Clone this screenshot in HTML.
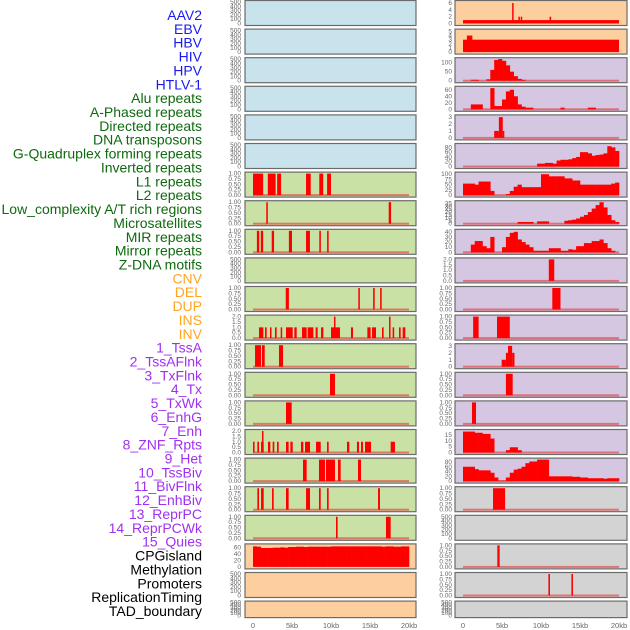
<!DOCTYPE html>
<html><head><meta charset="utf-8">
<style>
html,body{margin:0;padding:0;background:#fff;}
svg{display:block;font-family:"Liberation Sans",sans-serif;}
</style></head>
<body>
<svg id="chart" width="630" height="630" viewBox="0 0 630 630" xmlns="http://www.w3.org/2000/svg"></svg>
<script>
// ---------- labels ----------
const labels = ["AAV2","EBV","HBV","HIV","HPV","HTLV-1","Alu repeats","A-Phased repeats","Directed repeats","DNA transposons","G-Quadruplex forming repeats","Inverted repeats","L1 repeats","L2 repeats","Low_complexity A/T rich regions","Microsatellites","MIR repeats","Mirror repeats","Z-DNA motifs","CNV","DEL","DUP","INS","INV","1_TssA","2_TssAFlnk","3_TxFlnk","4_Tx","5_TxWk","6_EnhG","7_Enh","8_ZNF_Rpts","9_Het","10_TssBiv","11_BivFlnk","12_EnhBiv","13_ReprPC","14_ReprPCWk","15_Quies","CPGisland","Methylation","Promoters","ReplicationTiming","TAD_boundary"];
const labelGroups = [6,13,5,15,5];
const groupColors = ["#1a1af0","#0e6a0e","#ffa520","#a030f0","#000000"];

// ---------- axis ticks ----------
const xTickValues = [0,5000,10000,15000,20000];
const xTickLabels = ["0","5kb","10kb","15kb","20kb"];
const tEmpty = [0,100,200,300,400,500];
const tUnit = [0,0.25,0.5,0.75,1];
const tUnitLabels = ["0.00","0.25","0.50","0.75","1.00"];

// ---------- left column data (segments: [startKb,endKb,value]) ----------
const leftBg = ["b","b","b","b","b","b","g","g","g","g","g","g","g","g","g","g","g","g","g","o","o","o"];
const L6 = [[0,1.3,1],[1.9,2.9,1],[3.1,3.6,1],[6.8,7.4,1],[8.5,9.0,1],[9.5,10.0,1]];
const L7 = [[1.7,1.9,1],[17.4,17.7,1]];
const L8 = [[0.5,0.8,1],[1.0,1.3,1],[2.4,2.7,1],[4.6,5.0,1],[6.8,7.3,1],[8.5,8.7,1],[9.5,9.7,1]];
const L10 = [[4.2,4.6,1],[13.5,13.7,1],[15.4,15.6,1],[16.3,16.5,1]];
const L11 = [[0.77,1.33,1],[1.54,1.75,1],[2.18,2.35,1],[2.82,3.03,1],[3.55,3.72,1],[4.23,5.09,1],[5.3,5.6,1],[6.28,6.88,1],[7.01,7.74,1],[8.03,8.29,1],[8.72,9.02,1],[10.0,11.15,1],[10.38,10.56,2],[12.56,12.82,1],[14.66,15.08,1],[15.26,15.77,1],[16.54,16.75,1],[17.44,17.6,2],[17.9,18.1,1],[18.72,18.93,1],[19.19,19.53,1]];
const L12 = [[0.26,1.03,1],[1.15,1.5,1],[3.33,3.85,1]];
const L13 = [[9.87,10.51,1]];
const L14 = [[4.23,4.96,1]];
const L15 = [[0,0.2,1],[0.56,0.77,1],[1.03,1.37,1],[1.15,1.3,2],[1.92,2.22,1],[2.52,2.73,1],[3.08,3.29,1],[4.23,4.57,1],[4.79,5.09,1],[6.15,6.45,1],[6.67,7.31,1],[8.08,8.68,1],[9.49,9.7,1],[12.05,12.35,1],[13.33,13.59,1],[13.85,14.1,1],[14.36,15.13,1],[17.65,18.2,1]];
const L16 = [[6.41,6.88,1],[8.46,9.23,1],[9.36,10.51,1],[10.9,11.24,1],[13.46,13.85,1]];
const L17 = [[0.56,0.77,1],[1.03,1.37,1],[2.44,2.65,1],[4.23,4.57,1],[6.8,7.31,1],[8.46,8.68,1],[9.49,9.7,1],[16.03,16.28,1]];
const L18 = [[10.64,10.85,1],[17.05,17.65,1]];
const cpgValues = [63,62,58,58,58,59,59,60,59,61,61,62,62,61,62,62,62,62,62,62,63,63,63,63,63,63,63,63,63,63,63,63,63,62,63,63,62,62,63,63];

// ---------- right column data ----------
const rightBg = ["o","o","p","p","p","p","p","p","p","p","p","p","p","p","p","p","p","y","y","y","y","y"];
const R0 = [[0,20,1],[6.3,6.45,6],[7.1,7.25,2],[7.4,7.55,2],[11.1,11.3,2]];
const R1 = [[0,20,3],[0.5,1.2,4]];
const R2 = [0,0,5,5,0,0,8,60,115,120,110,85,50,25,10,5,0,0,0,0,0,0,0,0,0,0,0,0,0,0,0,0,0,0,0,0,0,0,0,0];
const R3 = [0,0,15,15,15,0,0,65,10,10,30,55,60,40,15,8,5,5,0,0,0,0,0,0,0,5,0,0,0,0,0,0,5,5,0,0,0,0,0,0];
const R4 = [[4.0,4.6,1],[4.6,5.1,3],[5.1,5.3,1]];
const R5 = [0,0,0,0,0,0,0,0,0,0,0,0,0,0,0,0,0,0,0,12,12,15,15,12,25,28,28,30,35,40,60,60,55,45,48,50,55,85,80,65];
const R6 = [55,55,55,50,65,65,65,20,0,0,0,5,20,40,50,38,38,38,38,38,100,100,90,90,90,90,80,80,70,70,50,50,50,50,50,50,50,50,55,60];
const R7 = [0,0,0,0,0,0,0,0,0,0,0,0,0,0,3,3,3,3,0,4,4,4,0,0,0,0,5,6,7,9,12,15,20,26,32,37,28,15,6,3];
const R8 = [0,0,15,22,22,12,8,30,0,0,10,30,38,40,25,20,15,10,3,3,3,3,8,8,8,3,3,6,5,12,12,18,18,22,22,25,18,8,3,0];
const R9 = [[11.0,11.7,2]];
const R10 = [[11.45,12.5,1]];
const R11 = [[1.3,2.0,1],[4.36,6.0,1]];
const R12 = [[4.96,5.5,1],[5.5,5.77,2],[5.77,6.3,3],[6.3,6.6,2]];
const R13 = [[5.5,6.37,1]];
const R14 = [[1.15,1.67,1]];
const R15 = [18,18,18,17,17,16,16,12,0,0,0,2,4.5,4.5,2,0,0,0,0,0,0,0,0,0,0,0,0,0,0,0,0,0,0,0,0,0,0,0,0,0];
const R16 = [60,60,60,50,45,45,45,35,15,2,2,15,35,48,52,60,75,82,82,90,90,90,20,20,20,20,20,20,18,18,15,15,12,12,12,12,10,12,12,12];
const R17 = [[3.85,5.4,1]];
const R19 = [[4.4,4.7,1]];
const R20 = [[10.95,11.15,1],[13.9,14.1,1]];

// ---------- panel specs (left/right): data, type, ymax, ticks, tick labels ----------
const leftSpec = [
 [null,"e"],[null,"e"],[null,"e"],[null,"e"],[null,"e"],[null,"e"],
 [L6,"s"],[L7,"s"],[L8,"s"],[null,"e"],[L10,"s"],[L11,"s2"],[L12,"s"],[L13,"s"],[L14,"s"],[L15,"s2"],[L16,"s"],[L17,"s"],[L18,"s"],
 [cpgValues,"h",66,[0,20,40,60]],[null,"e"],[null,"e"]
];
const rightSpec = [
 [R0,"s",6.3,[0,2,4,6]],[R1,"s",5.2,[0,1,2,3,4,5]],[R2,"h",119,[0,50,100]],[R3,"h",66,[0,20,40,60]],[R4,"s",3.1,[0,1,2,3]],
 [R5,"h",90,[0,20,40,60,80]],[R6,"h",103,[0,25,50,75,100]],[R7,"h",37,[0,5,10,15,20,25,30,35]],[R8,"h",42,[0,10,20,30,40]],
 [R9,"s2"],[R10,"s"],[R11,"s"],[R12,"s",3.1,[0,1,2,3]],[R13,"s"],[R14,"s"],[R15,"h",18.5,[0,5,10,15]],[R16,"h",90,[0,20,40,60,80]],
 [R17,"s"],[null,"e"],[R19,"s"],[R20,"s"],[null,"e"]
];
const bgColors = {b:"#c8e3eb",g:"#c9e1a5",o:"#fdcf9f",p:"#d5c6e2",y:"#d3d3d3"};

const NS = "http://www.w3.org/2000/svg";
const svg = document.getElementById("chart");
function mk(tag, attrs, parent){ const e=document.createElementNS(NS,tag); for(const k in attrs) e.setAttribute(k,attrs[k]); (parent||svg).appendChild(e); return e; }

// labels
let li=0;
labelGroups.forEach((n,g)=>{ for(let k=0;k<n;k++){
  const t = mk("text",{x:202,y:15+13.86*li,"text-anchor":"end","dominant-baseline":"central","font-size":"14",fill:groupColors[g]});
  t.textContent = labels[li];
  
  
  li++; }});

const cols = [{x0:245,x1:416,p0:253,p1:409,tx:241,spec:leftSpec,bg:leftBg},{x0:455,x1:627,p0:463,p1:619,tx:452,spec:rightSpec,bg:rightBg}];

cols.forEach((c,ci)=>{
  const xs = v => c.p0 + (v/20000)*(c.p1-c.p0);
  c.spec.forEach((sp,ri)=>{
    const top = 0.5 + 28.6*ri;
    const h = ri===21 ? 16.5 : 25;
    const yb = top + h - 2, yt = top + 1.5;
    const g = mk("g",{});
    
    
    mk("rect",{x:c.x0,y:top,width:c.x1-c.x0,height:h,fill:bgColors[c.bg[ri]],stroke:"#6b6b6b","stroke-width":1.2},g);
    const type = sp[1];
    let ymax, ticks, tl;
    if(type==="e"){ ymax=500; ticks=tEmpty; tl=tEmpty.map(String); }
    else if(type==="s"&&sp[2]===undefined){ ymax=1; ticks=tUnit; tl=tUnitLabels; }
    else if(type==="s2"){ ymax=2; ticks=[0,0.5,1,1.5,2]; tl=["0.0","0.5","1.0","1.5","2.0"]; }
    else { ymax=sp[2]; ticks=sp[3]; tl=ticks.map(String); }
    const ys = v => yb - (v/ymax)*(yb-yt);
    ticks.forEach((tv,k)=>{
      const t = mk("text",{x:c.tx,y:ys(tv)+2,"text-anchor":"end","font-size":"6.5",fill:"#666"},g);
      t.textContent = tl[k];
      
      
    });
    if(type!=="e" && !(ci===1 && ri<2) && !(ci===0 && ri===19)){
      mk("rect",{x:xs(0),y:yb-1,width:xs(20000)-xs(0),height:2,fill:"rgba(230,40,40,0.55)"},g);
    }
    const data = sp[0];
    if(!data) return;
    if(type==="h"){
      data.forEach((v,i)=>{ if(v<=0) return;
        const r = mk("rect",{x:xs(i*500),y:ys(v),width:xs((i+1)*500)-xs(i*500)+0.3,height:yb-ys(v),fill:"#ff0000"},g);
        
        
      });
    } else {
      data.forEach(s=>{
        const x1 = xs(s[0]*1000), x2 = xs(s[1]*1000);
        const r = mk("rect",{x:x1,y:ys(s[2]),width:Math.max(1.5,x2-x1),height:yb-ys(s[2]),fill:"#ff0000"},g);
        
        
      });
    }
  });
  xTickValues.forEach((v,k)=>{
    const t = mk("text",{x:xs(v),y:628,"text-anchor":"middle","font-size":"7.5",fill:"#666"});
    t.textContent = xTickLabels[k];
    
    
  });
});
</script>
</body></html>
